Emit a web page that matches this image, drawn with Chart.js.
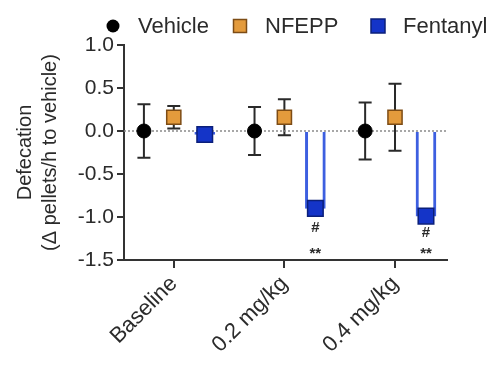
<!DOCTYPE html>
<html><head><meta charset="utf-8">
<script src="https://cdn.jsdelivr.net/npm/chart.js@4.4.0/dist/chart.umd.min.js"></script>
<style>html,body{margin:0;padding:0;background:#fff}#wrap{width:500px;height:368px}</style>
</head><body><div id="wrap"><canvas id="c" width="500" height="368"></canvas></div>
<script>
// ---- data ----
const categories = ['Baseline', '0.2 mg/kg', '0.4 mg/kg'];
const seriesNames = ['Vehicle', 'NFEPP', 'Fentanyl'];
const vehicleMean = [0, 0, 0];
const vehicleSem = [0.31, 0.28, 0.33];
const nfeppMean = [0.16, 0.16, 0.16];
const nfeppSem = [0.13, 0.21, 0.39];
const fentanylMean = [-0.04, -0.90, -0.99];
const fentanylSem = [0.03, 0.04, 0.04];
const fentanylSig = [[], ['#', '**'], ['#', '**']];
const yTickValues = [-1.5, -1.0, -0.5, 0.0, 0.5, 1.0];

// ---- layout constants ----
const OFF = [-0.27, 0, 0.28];
const FONT = '"Liberation Sans", Arial, sans-serif';
const TXT = '#2b2b2b';
Chart.defaults.font.family = FONT;

const pts = (means, k) => means.map((v, i) => ({x: i + OFF[k], y: v}));

const errorBarPlugin = {
  id: 'errorBars',
  beforeDatasetsDraw(chart) {
    const {ctx, scales: {x, y}} = chart;
    chart.data.datasets.forEach(ds => {
      if (!ds.errors) return;
      ds.data.forEach((p, j) => {
        const e = ds.errors[j];
        const px = x.getPixelForValue(p.x);
        const top = y.getPixelForValue(p.y + e), bot = y.getPixelForValue(p.y - e);
        ctx.save();
        ctx.strokeStyle = '#2a2a2a'; ctx.lineWidth = 2;
        ctx.beginPath();
        ctx.moveTo(px, top); ctx.lineTo(px, bot);
        ctx.moveTo(px - 6.5, top); ctx.lineTo(px + 6.5, top);
        ctx.moveTo(px - 6.5, bot); ctx.lineTo(px + 6.5, bot);
        ctx.stroke(); ctx.restore();
      });
    });
  }
};

const sigPlugin = {
  id: 'sigMarks',
  afterDatasetsDraw(chart) {
    const {ctx, scales: {x, y}} = chart;
    const ds = chart.data.datasets.find(d => d.sig);
    if (!ds) return;
    const axisY = y.bottom;
    ds.data.forEach((p, j) => {
      const marks = ds.sig[j];
      if (!marks.length) return;
      const px = x.getPixelForValue(p.x);
      const py = y.getPixelForValue(p.y);
      ctx.save();
      ctx.fillStyle = TXT; ctx.textAlign = 'center'; ctx.textBaseline = 'middle';
      ctx.font = 'bold 15px ' + FONT;
      ctx.fillText(marks[0], px, Math.min(py + 19, axisY - 27));
      ctx.font = 'bold 15px ' + FONT;
      ctx.fillText(marks[1], px, axisY - 6);
      ctx.restore();
    });
  }
};

const legendPlugin = {
  id: 'customLegend',
  afterDraw(chart) {
    const ctx = chart.ctx;
    const cy = 26;
    const centers = [113, 240, 378];
    const sizes = [6.5, 13, 14];
    chart.data.datasets.filter(d => d.inLegend).forEach((ds, i) => {
      const cx = centers[i];
      ctx.save();
      ctx.fillStyle = ds.backgroundColor; ctx.strokeStyle = ds.borderColor; ctx.lineWidth = 1.5;
      if (ds.pointStyle === 'circle') {
        ctx.beginPath(); ctx.arc(cx, cy, sizes[i], 0, Math.PI * 2); ctx.fill();
      } else {
        const s = sizes[i];
        ctx.fillRect(cx - s / 2, cy - s / 2, s, s);
        ctx.strokeRect(cx - s / 2, cy - s / 2, s, s);
      }
      ctx.fillStyle = TXT; ctx.font = '22px ' + FONT; ctx.textBaseline = 'middle'; ctx.textAlign = 'left';
      ctx.fillText(ds.label, cx + 25, cy + 1);
      ctx.restore();
    });
  }
};

new Chart(document.getElementById('c'), {
  type: 'scatter',
  data: {
    datasets: [
      {
        type: 'bar', label: 'FentanylBar', data: pts(fentanylMean, 2),
        backgroundColor: '#ffffff', borderColor: '#3d5fe0', borderWidth: 3,
        borderSkipped: 'start', barThickness: 20, grouped: false, order: 5
      },
      {
        type: 'line', label: 'zero', data: [{x: -0.45, y: 0}, {x: 2.47, y: 0}],
        borderColor: '#8a8a8a', borderWidth: 1.5, borderDash: [2, 2], pointRadius: 0, order: 4
      },
      {
        label: seriesNames[0], data: pts(vehicleMean, 0), errors: vehicleSem, inLegend: true,
        pointStyle: 'circle', pointRadius: 7, backgroundColor: '#000000', borderColor: '#000000', order: 1
      },
      {
        label: seriesNames[1], data: pts(nfeppMean, 1), errors: nfeppSem, inLegend: true,
        pointStyle: 'rect', pointRadius: 10, backgroundColor: '#e49b3c', borderColor: '#7d4c15', borderWidth: 1.5, order: 1
      },
      {
        label: seriesNames[2], data: pts(fentanylMean, 2), errors: fentanylSem, sig: fentanylSig, inLegend: true,
        pointStyle: 'rect', pointRadius: 11, backgroundColor: '#1434c8', borderColor: '#0b1f7a', borderWidth: 1.5, order: 0
      }
    ]
  },
  options: {
    responsive: false, animation: false,
    layout: {padding: {left: 0, right: 53, top: 45, bottom: 0}},
    plugins: {legend: {display: false}, tooltip: {enabled: false}},
    scales: {
      x: {
        type: 'linear', min: -0.45, max: 2.47, offset: false,
        afterBuildTicks: s => { s.ticks = categories.map((c, i) => ({value: i})); },
        afterFit: s => { s.height = 108; },
        border: {color: '#333', width: 2},
        grid: {drawOnChartArea: false, offset: false, color: '#333', lineWidth: 2, tickLength: 8},
        ticks: {autoSkip: false, minRotation: 45, maxRotation: 45, padding: 3, color: TXT,
          font: {size: 22}, callback: (v, i) => categories[i]}
      },
      y: {
        min: -1.5, max: 1.0,
        afterBuildTicks: s => { s.ticks = yTickValues.map(v => ({value: v})); },
        afterFit: s => { s.width = 124; },
        border: {color: '#333', width: 2},
        grid: {drawOnChartArea: false, color: '#333', lineWidth: 2, tickLength: 7},
        ticks: {padding: 3, color: TXT, font: {size: 21}, callback: v => v.toFixed(1)},
        title: {display: true, text: ['Defecation', '(\u0394 pellets/h to vehicle)'], color: TXT,
          font: {size: 20, lineHeight: 1.25}, padding: {top: 13, bottom: 0}}
      }
    }
  },
  plugins: [errorBarPlugin, sigPlugin, legendPlugin]
});
</script>
</body></html>
